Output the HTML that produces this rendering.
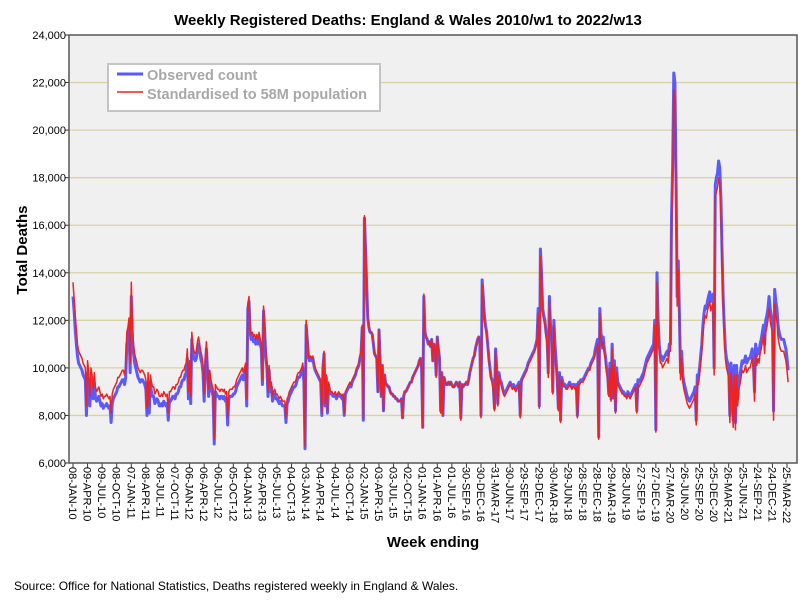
<!DOCTYPE html>
<html><head><meta charset="utf-8"><style>
body{margin:0;background:#fff;font-family:"Liberation Sans",sans-serif;}
svg text{font-family:"Liberation Sans",sans-serif;}
</style></head><body>
<svg id="chart" width="808" height="601" xmlns="http://www.w3.org/2000/svg">
<rect x="0" y="0" width="808" height="601" fill="#fff"/>
<text x="408" y="25" text-anchor="middle" font-size="15" font-weight="bold">Weekly Registered Deaths: England &amp; Wales 2010/w1 to 2022/w13</text>
<rect x="69" y="35" width="728" height="428" fill="#f0f0f0"/>
<g id="grid"></g><g id="yaxis"></g><g id="xaxis"></g><g id="series"></g>
<rect x="69" y="35" width="728" height="428" fill="none" stroke="#555" stroke-width="1.5"/>
<text transform="translate(27,250) rotate(-90)" text-anchor="middle" font-size="15" font-weight="bold">Total Deaths</text>
<text x="433" y="547" text-anchor="middle" font-size="15" font-weight="bold">Week ending</text>
<text x="14" y="590" font-size="12">Source: Office for National Statistics, Deaths registered weekly in England &amp; Wales.</text>
<g>
<rect x="108" y="64" width="272" height="47" fill="#fff" stroke="#c4c4c4" stroke-width="2"/>
<line x1="117" y1="74" x2="143" y2="74" stroke="#5a5aff" stroke-width="3"/>
<text x="147" y="80" font-size="14.5" font-weight="bold" fill="#a8a8a8">Observed count</text>
<line x1="117" y1="92" x2="143" y2="92" stroke="#ee2222" stroke-width="1.5"/>
<text x="147" y="99" font-size="14.5" font-weight="bold" fill="#a8a8a8">Standardised to 58M population</text>
</g>
</svg>
<script>
// values in hundreds of deaths
const obs2010=[130,124,116,110,105,102,101,100,99,97,96,95,80,98,93,84,95,92,87,93,88,86,87,88,86,84,85,83,84,84,85,84,83,84,77,85,87,88,89,90,92,92,93,94,95,95,93,96,110,112,116,98];
const obs2011=[130,112,106,102,100,98,96,95,94,95,95,94,93,91,80,94,81,93,90,88,88,85,86,87,86,84,84,85,84,86,85,84,85,78,86,86,87,88,88,87,89,89,90,92,92,94,95,95,97,98,104,87];
const obs2012=[100,85,112,106,104,103,104,108,110,107,104,102,98,86,100,108,99,88,96,92,90,88,68,90,89,88,88,87,88,88,87,88,86,87,76,87,88,88,88,89,89,90,92,93,94,95,96,97,95,97,99,84];
const obs2013=[125,128,115,112,113,111,112,110,112,110,113,110,108,93,124,115,105,100,88,99,90,92,86,88,89,87,87,86,85,86,85,84,84,84,77,85,86,88,89,90,91,92,92,93,95,96,96,97,98,100,94,66];
const obs2014=[118,112,105,103,104,103,104,101,99,98,97,96,95,94,80,100,106,84,96,81,93,90,89,89,88,88,89,87,88,89,88,88,87,88,80,89,90,91,92,93,92,94,95,96,97,99,100,101,104,106,117,78];
const obs2015=[163,150,135,121,117,115,115,114,110,106,105,104,90,116,103,88,101,82,97,93,93,92,92,90,89,89,88,88,87,87,86,86,86,87,79,88,90,90,91,92,93,94,94,96,97,98,99,100,101,103,104,100,75];
const obs2016=[130,115,113,112,110,111,109,112,103,110,108,97,113,108,104,82,98,80,96,94,93,93,94,93,94,93,92,92,93,94,93,92,94,79,93,92,93,93,94,93,95,98,100,102,104,105,108,110,112,113,111,80];
const obs2017=[137,130,122,118,115,110,104,100,96,95,92,83,108,100,85,98,95,94,92,90,89,90,91,92,93,94,93,92,93,92,91,92,93,94,80,95,96,97,98,99,100,102,103,104,105,106,107,108,110,112,125,84];
const obs2018=[150,140,125,122,120,115,112,98,130,118,115,90,120,110,103,95,83,98,78,96,94,93,93,92,92,93,94,93,92,93,93,92,93,80,94,94,95,95,95,96,97,98,99,100,100,102,103,104,105,108,110,112];
const obs2019=[71,125,115,110,113,108,105,100,97,89,102,87,110,88,103,82,100,94,93,92,91,90,90,89,89,88,90,89,88,89,90,91,92,93,82,95,94,95,96,97,98,100,102,104,105,106,107,108,109,110,120,74];
const obs2020=[140,120,110,105,105,103,104,105,106,107,105,110,110,164,185,224,220,180,130,145,123,98,107,97,94,92,90,88,87,86,87,88,89,90,92,78,97,96,100,105,110,118,123,126,125,128,130,132,128,130,131,100,177];
const obs2021=[180,182,187,184,172,150,130,118,108,104,102,100,80,102,95,78,101,77,101,87,95,97,100,103,102,103,105,102,103,104,104,106,108,103,90,110,105,108,106,110,112,115,118,110,120,122,125,130,125,122,120,82];
const obs2022=[133,128,125,118,115,113,112,112,112,110,108,104,99];

const std2010=[136,129,122,116,110,107,106,105,104,102,101,100,84,103,98,88,100,97,91,98,92,90,91,92,90,88,89,87,88,88,89,88,87,88,81,89,91,92,93,94,96,96,97,98,99,99,97,100,115,117,121,102];
const std2011=[136,117,110,106,104,102,100,99,98,99,99,98,97,95,83,98,84,97,94,92,92,89,90,91,90,88,88,89,88,90,89,88,89,81,90,90,91,92,92,91,93,93,94,96,96,98,99,99,101,102,108,90];
const std2012=[103,88,115,109,107,106,107,111,113,110,107,105,101,89,103,111,102,91,99,95,93,91,70,93,92,91,91,90,91,91,90,91,89,90,79,90,91,91,91,92,92,93,95,96,97,98,99,100,98,100,102,87];
const std2013=[127,130,117,114,115,113,114,112,114,112,115,112,110,95,126,117,107,102,90,101,92,94,88,90,91,89,89,88,87,88,87,86,86,86,79,87,88,90,91,92,93,94,94,95,97,98,98,99,100,102,96,67];
const std2014=[120,113,106,104,105,104,105,102,100,99,98,97,96,95,81,101,107,85,97,82,94,91,90,90,89,89,90,88,89,90,89,89,88,89,81,90,91,92,93,94,93,95,96,97,98,100,101,102,105,107,118,79];
const std2015=[164,151,135,121,117,115,115,114,110,106,105,104,90,116,103,88,101,82,97,93,93,92,92,90,89,89,88,88,87,87,86,86,86,87,79,88,90,90,91,92,93,94,94,96,97,98,99,100,101,103,104,100,75];
const std2016=[131,115,113,112,110,111,109,112,103,110,108,96,113,108,104,81,98,80,96,94,93,93,94,93,94,93,92,92,93,94,93,92,94,78,93,92,93,93,94,93,95,98,100,102,104,105,108,110,112,113,111,79];
const std2017=[135,129,121,117,114,109,103,99,95,94,91,82,107,99,84,97,94,93,91,89,88,89,90,91,92,93,92,91,92,91,90,91,92,93,79,94,95,96,97,98,99,101,102,103,104,105,106,107,109,111,123,83];
const std2018=[147,138,123,120,118,113,110,96,128,116,113,89,118,108,101,94,82,97,77,95,93,92,92,91,91,92,93,92,91,92,92,91,92,79,93,93,94,94,94,95,96,97,98,99,99,101,102,103,104,107,108,110];
const std2019=[70,123,113,108,111,106,103,98,95,88,100,86,108,87,101,81,98,93,92,91,90,89,89,88,88,87,89,88,87,88,89,90,91,92,81,93,92,93,94,95,96,98,100,102,103,104,105,106,107,108,118,73];
const std2020=[136,116,107,102,102,100,101,102,103,104,102,107,107,160,180,217,213,175,126,141,120,95,104,94,91,89,87,85,84,83,84,85,86,87,89,76,94,93,97,102,107,114,119,122,121,124,126,128,124,126,127,97,172];
const std2021=[174,176,180,177,166,145,126,114,104,100,98,96,77,98,91,75,97,74,97,84,91,93,96,99,98,99,101,98,99,100,100,102,104,99,86,106,101,104,102,106,108,111,114,106,115,117,120,125,120,117,115,78];
const std2022=[127,122,120,113,110,108,107,107,107,105,103,99,94];

const yTicks=[6000,8000,10000,12000,14000,16000,18000,20000,22000,24000];
const xTickLabels=["08-JAN-10","09-APR-10","09-JUL-10","08-OCT-10","07-JAN-11","08-APR-11","08-JUL-11","07-OCT-11","06-JAN-12","06-APR-12","06-JUL-12","05-OCT-12","04-JAN-13","05-APR-13","05-JUL-13","04-OCT-13","03-JAN-14","04-APR-14","04-JUL-14","03-OCT-14","02-JAN-15","03-APR-15","03-JUL-15","02-OCT-15","01-JAN-16","01-APR-16","01-JUL-16","30-SEP-16","30-DEC-16","31-MAR-17","30-JUN-17","29-SEP-17","29-DEC-17","30-MAR-18","29-JUN-18","28-SEP-18","28-DEC-18","29-MAR-19","28-JUN-19","27-SEP-19","27-DEC-19","27-MAR-20","26-JUN-20","25-SEP-20","25-DEC-20","26-MAR-21","25-JUN-21","24-SEP-21","24-DEC-21","25-MAR-22"];
const tickEvery=13;

const observed=[].concat(obs2010,obs2011,obs2012,obs2013,obs2014,obs2015,obs2016,obs2017,obs2018,obs2019,obs2020,obs2021,obs2022).map(v=>v*100);
const standardised=[].concat(std2010,std2011,std2012,std2013,std2014,std2015,std2016,std2017,std2018,std2019,std2020,std2021,std2022).map(v=>v*100);

const NS="http://www.w3.org/2000/svg";
const PL=69,PR=797,PT=35,PB=463,YMIN=6000,YMAX=24000;
const X0=73,X1=787;
const lastTick=(xTickLabels.length-1)*tickEvery;
function xs(i){return X0+(X1-X0)*i/lastTick;}
function ys(v){return PB-(v-YMIN)/(YMAX-YMIN)*(PB-PT);}
function mk(tag,attrs,parent){const e=document.createElementNS(NS,tag);for(const k in attrs)e.setAttribute(k,attrs[k]);parent.appendChild(e);return e;}
const grid=document.getElementById('grid'),ya=document.getElementById('yaxis'),xa=document.getElementById('xaxis'),ser=document.getElementById('series');
yTicks.forEach(t=>{
  const y=ys(t);
  if(t>YMIN&&t<YMAX){const g=mk('line',{x1:PL,x2:PR,y1:y,y2:y,stroke:'#d9d3a3','stroke-width':1.3},grid);
  
  }
  const tk=mk('line',{x1:PL-4,x2:PL,y1:y,y2:y,stroke:'#333'},ya);
  
  
  const tx=mk('text',{x:PL-3,y:y+4,'text-anchor':'end','font-size':11},ya);
  
  
  tx.textContent=t.toLocaleString('en-US');
});
xTickLabels.forEach((lab,k)=>{
  const x=xs(k*tickEvery);
  const tk=mk('line',{x1:x,x2:x,y1:PB,y2:PB+5,stroke:'#333'},xa);
  
  
  const tx=mk('text',{transform:`translate(${x-4},${PB+4}) rotate(90)`,'font-size':11},xa);
  
  
  tx.textContent=lab;
});
function path(vals){return vals.map((v,i)=>(i?'L':'M')+xs(i).toFixed(2)+','+ys(v).toFixed(2)).join('');}
const p1=mk('path',{d:path(observed),fill:'none',stroke:'#5a5aff','stroke-width':3,'stroke-linejoin':'round'},ser);


const p2=mk('path',{d:path(standardised),fill:'none',stroke:'#ee2222','stroke-width':1.5,'stroke-linejoin':'round'},ser);


</script>
</body></html>
